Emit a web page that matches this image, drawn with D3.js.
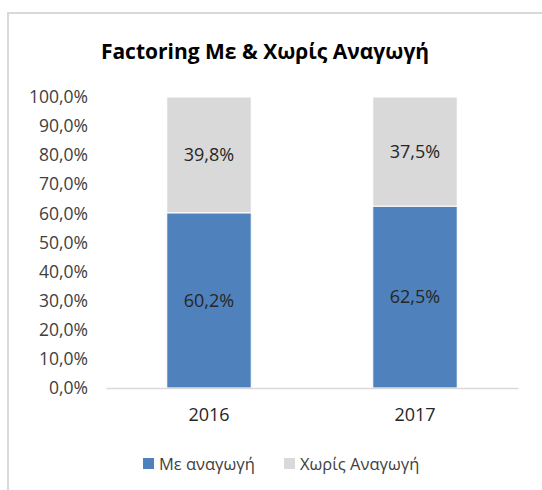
<!DOCTYPE html>
<html>
<head>
<meta charset="utf-8">
<script src="https://cdn.jsdelivr.net/npm/d3@7"></script>
<style>
  body { margin: 0; background: #fff; }
  svg { display: block; font-family: "Open Sans", sans-serif; }
</style>
</head>
<body>
<svg id="chart"></svg>
<script>
const years = ["2016", "2017"];
const withRecourse = [60.2, 62.5];
const withoutRecourse = [39.8, 37.5];
const seriesNames = ["Με αναγωγή", "Χωρίς Αναγωγή"];
const yTicks = [0, 10, 20, 30, 40, 50, 60, 70, 80, 90, 100];
const title = "Factoring Με & Χωρίς Αναγωγή";

const W = 542, H = 490;
const colors = ["#4f81bd", "#d9d9d9"];
const locale = d3.formatLocale({ decimal: ",", thousands: ".", grouping: [3], currency: ["", "€"] });
const fmt = v => locale.format(".1f")(v) + "%";

const svg = d3.select("#chart").attr("width", W).attr("height", H);

// chart frame
svg.append("rect")
    .attr("x", 8).attr("y", 13)
    .attr("width", W + 10).attr("height", H + 10)
    .attr("fill", "none")
    .attr("stroke", "#d9d9d9")
    .attr("stroke-width", 2);

svg.append("text")
    .attr("x", 265).attr("y", 59)
    .attr("text-anchor", "middle")
    .style("font-size", "21px")
    .style("font-weight", "bold")
    .attr("fill", "#000")
    .text(title);

const x = d3.scaleBand()
    .domain(years)
    .range([106, 518])
    .paddingInner(0.59)
    .paddingOuter(0.295);

const y = d3.scaleLinear()
    .domain([0, 100])
    .range([388, 97]);

const stackData = years.map((yr, i) => ({ year: yr, a: withRecourse[i], b: withoutRecourse[i] }));
const series = d3.stack().keys(["a", "b"])(stackData);

// y axis labels
const yAxis = svg.append("g")
    .attr("transform", "translate(88,0)")
    .call(d3.axisLeft(y).tickValues(yTicks).tickFormat(fmt).tickSize(0).tickPadding(0));
yAxis.select(".domain").remove();
yAxis.selectAll("text")
    .style("font-size", "17.5px")
    .style("font-family", "Open Sans, sans-serif")
    .attr("fill", "#404040");

// bars
series.forEach((s, si) => {
    svg.append("g").selectAll("rect")
        .data(s)
        .enter().append("rect")
        .attr("x", d => x(d.data.year))
        .attr("width", x.bandwidth())
        .attr("y", d => y(d[1]))
        .attr("height", d => y(d[0]) - y(d[1]))
        .attr("fill", colors[si])
        .attr("stroke", "#fff")
        .attr("stroke-width", 1);

    svg.append("g").selectAll("text")
        .data(s)
        .enter().append("text")
        .attr("x", d => x(d.data.year) + x.bandwidth() / 2)
        .attr("y", d => (y(d[0]) + y(d[1])) / 2)
        .attr("dy", "0.35em")
        .attr("text-anchor", "middle")
        .style("font-size", "18px")
        .attr("fill", "#262626")
        .text(d => fmt(d[1] - d[0]));
});

// x axis
const xAxis = svg.append("g")
    .attr("transform", "translate(0,388)")
    .call(d3.axisBottom(x).tickSize(0).tickPadding(20));
xAxis.select(".domain").attr("stroke", "#d9d9d9").attr("stroke-width", 1.5);
xAxis.selectAll("text")
    .style("font-size", "18px")
    .style("font-family", "Open Sans, sans-serif")
    .attr("fill", "#262626");

// legend
const legendX = [143, 284];
const legend = svg.append("g");
seriesNames.forEach((name, i) => {
    legend.append("rect")
        .attr("x", legendX[i]).attr("y", 458)
        .attr("width", 11).attr("height", 11)
        .attr("fill", colors[i]);
    legend.append("text")
        .attr("x", legendX[i] + 16).attr("y", 464)
        .attr("dy", "0.35em")
        .style("font-size", "16.5px")
        .attr("fill", "#404040")
        .text(name);
});
</script>
</body>
</html>
